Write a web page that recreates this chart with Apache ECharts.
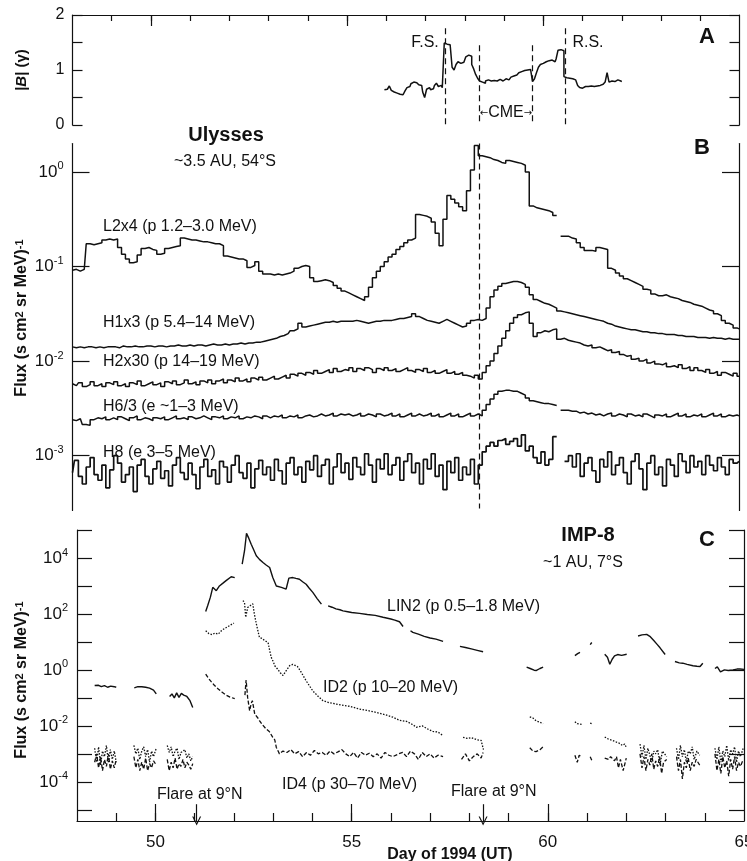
<!DOCTYPE html>
<html><head><meta charset="utf-8">
<script src="https://cdn.jsdelivr.net/npm/echarts@6/dist/echarts.min.js"></script>
<style>html,body{margin:0;padding:0;background:#fff}#c{width:747px;height:861px}</style>
</head><body><div id="c"></div><script>
const FONT = "'Liberation Sans', Arial, Helvetica, sans-serif";
const INK = '#111';

// ---------- Panel A: |B| (gamma), regular sampling ----------
const magDay0 = 55.95, magStep = 0.05;
const magField = [0.64,0.65,0.63,0.71,0.63,0.6,0.58,0.6,0.56,0.55,0.58,0.62,0.68,0.7,0.75,0.78,0.77,0.76,0.73,0.72,
0.6,0.5,0.65,0.68,0.64,0.66,0.72,0.76,0.7,0.72,0.68,1.49,1.47,1.46,1.45,1.05,1.0,1.1,1.15,1.12,
1.14,1.13,1.24,1.27,1.25,1.1,1.02,0.92,0.85,0.8,0.78,0.76,0.8,0.82,0.8,0.79,0.81,0.8,0.82,0.83,
0.8,0.83,0.84,0.82,0.85,0.87,0.89,0.91,0.92,0.95,0.97,0.99,1.0,1.0,1.01,1.02,0.79,0.84,0.95,1.05,
1.1,1.12,1.15,1.17,1.17,1.18,1.17,1.15,1.2,1.36,1.37,1.35,0.88,0.86,0.85,0.83,0.84,0.82,0.8,0.72,
0.68,0.67,0.7,0.73,0.7,0.71,0.69,0.7,0.71,0.7,0.72,0.74,0.72,0.78,0.95,0.78,0.8,0.79,0.81,0.82,
0.8,0.79];

// ---------- Panel B: Ulysses, log10 flux, 0.1-day sampling from day 48.0 ----------
const ulyDay0 = 48.0, ulyStep = 0.1;
const L2x4 = [
-1.04,-1.03,-1.05,-1.03,-0.76,-0.77,-0.76,-0.75,-0.72,-0.71,
-0.72,-0.71,-0.8,-0.87,-0.92,-0.96,-0.95,-0.88,-0.81,-0.8,
-0.82,-0.83,-0.87,-0.86,-0.81,-0.8,-0.79,-0.78,-0.7,-0.71,
-0.72,-0.72,-0.73,-0.74,-0.74,-0.75,-0.76,-0.76,-0.78,-0.89,
-0.9,-0.91,-0.92,-0.92,-0.94,-1.01,-0.99,-0.95,-1.05,-1.08,
-1.08,-1.09,-1.08,-1.09,-1.08,-1.07,-1.05,-1.02,-1.0,-0.99,
-1.0,-1.12,-1.16,-1.15,-1.14,-1.15,-1.17,-1.2,-1.23,-1.26,
-1.28,-1.3,-1.32,-1.34,-1.36,-1.32,-1.22,-1.12,-1.05,-1.0,
-0.95,-0.9,-0.87,-0.82,-0.79,-0.75,-0.72,-0.7,-0.45,-0.46,
-0.47,-0.49,-0.53,-0.65,-0.78,-0.5,-0.25,-0.29,-0.33,-0.37,
-0.41,-0.2,0.02,0.28,0.17,0.16,0.15,0.13,0.12,0.1,
0.09,0.12,0.11,0.1,0.09,0.07,0.0,-0.36,-0.38,-0.39,
-0.4,-0.41,-0.43,-0.46,null,-0.68,-0.68,-0.7,-0.71,-0.75,
-0.8,-0.83,-0.83,-0.84,-0.8,-0.81,-0.82,-1.02,-1.04,-1.07,
-1.1,-1.13,-1.15,-1.17,-1.19,-1.21,-1.24,-1.25,-1.29,-1.31,
-1.31,-1.3,-1.32,-1.33,-1.34,-1.36,-1.37,-1.38,-1.4,-1.41,
-1.42,-1.44,-1.46,-1.47,-1.5,-1.52,-1.57,-1.6,-1.62,-1.65,
-1.66];
const H1x3 = [
-1.85,-1.86,-1.85,-1.86,-1.85,-1.85,-1.86,-1.85,-1.86,-1.85,
-1.85,-1.85,-1.86,-1.84,-1.85,-1.85,-1.84,-1.85,-1.85,-1.84,
-1.84,-1.85,-1.84,-1.84,-1.85,-1.84,-1.84,-1.83,-1.84,-1.84,
-1.83,-1.84,-1.83,-1.83,-1.84,-1.83,-1.82,-1.83,-1.83,-1.82,
-1.83,-1.82,-1.82,-1.81,-1.82,-1.81,-1.81,-1.8,-1.8,-1.79,
-1.78,-1.77,-1.76,-1.74,-1.73,-1.71,-1.68,-1.66,-1.6,-1.64,
-1.63,-1.62,-1.61,-1.6,-1.59,-1.59,-1.58,-1.59,-1.58,-1.58,
-1.58,-1.58,-1.57,-1.58,-1.59,-1.6,-1.59,-1.58,-1.58,-1.57,
-1.57,-1.57,-1.56,-1.55,-1.55,-1.54,-1.53,-1.5,-1.53,-1.55,
-1.57,-1.58,-1.59,-1.6,-1.58,-1.56,-1.58,-1.6,-1.62,-1.64,
-1.63,-1.6,-1.57,-1.56,-1.57,-1.55,-1.44,-1.32,-1.25,-1.21,
-1.18,-1.17,-1.16,-1.16,-1.17,-1.19,-1.22,-1.3,-1.35,-1.37,
-1.39,-1.4,-1.42,-1.44,-1.47,-1.48,-1.49,-1.5,-1.51,-1.52,
-1.53,-1.54,-1.55,-1.56,-1.57,-1.58,-1.6,-1.61,-1.63,-1.64,
-1.65,-1.66,-1.67,-1.67,-1.68,-1.69,-1.69,-1.7,-1.7,-1.71,
-1.71,-1.72,-1.72,-1.72,-1.73,-1.73,-1.74,-1.74,-1.74,-1.75,
-1.75,-1.75,-1.76,-1.75,-1.76,-1.76,-1.77,-1.76,-1.77,-1.77,
-1.77];
const H2x30 = [
-2.24,-2.26,-2.23,-2.27,-2.25,-2.22,-2.26,-2.24,-2.27,-2.23,
-2.25,-2.22,-2.26,-2.24,-2.27,-2.23,-2.25,-2.21,-2.26,-2.24,
-2.22,-2.25,-2.23,-2.27,-2.22,-2.24,-2.21,-2.25,-2.23,-2.2,
-2.24,-2.22,-2.25,-2.21,-2.23,-2.2,-2.24,-2.21,-2.19,-2.23,
-2.2,-2.22,-2.18,-2.21,-2.19,-2.22,-2.18,-2.2,-2.17,-2.2,
-2.18,-2.16,-2.19,-2.17,-2.15,-2.18,-2.14,-2.16,-2.13,-2.15,
-2.12,-2.14,-2.1,-2.13,-2.11,-2.09,-2.12,-2.08,-2.11,-2.09,
-2.1,-2.07,-2.11,-2.08,-2.1,-2.07,-2.09,-2.12,-2.08,-2.1,
-2.07,-2.1,-2.08,-2.11,-2.09,-2.07,-2.1,-2.12,-2.09,-2.11,
-2.08,-2.12,-2.1,-2.13,-2.11,-2.09,-2.13,-2.11,-2.14,-2.12,
-2.15,-2.16,-2.18,-2.15,-2.19,-2.12,-2.05,-2.0,-1.92,-1.84,
-1.76,-1.68,-1.6,-1.54,-1.51,-1.49,-1.48,-1.6,-1.74,-1.7,
-1.68,-1.69,-1.67,-1.66,-1.77,-1.76,-1.78,-1.79,-1.8,-1.81,
-1.83,-1.84,-1.83,-1.86,-1.85,-1.87,-1.89,-1.88,-1.91,-1.9,
-1.93,-1.95,-1.94,-1.98,-1.97,-2.0,-1.98,-2.02,-2.0,-2.03,
-2.04,-2.02,-2.06,-2.05,-2.07,-2.04,-2.08,-2.06,-2.1,-2.07,
-2.1,-2.12,-2.09,-2.13,-2.11,-2.15,-2.12,-2.14,-2.16,-2.13,
-2.16];
const H6div3 = [
-2.62,-2.63,-2.61,-2.67,-2.68,-2.62,-2.6,-2.61,-2.59,-2.62,
-2.6,-2.62,-2.59,-2.61,-2.63,-2.6,-2.58,-2.62,-2.6,-2.61,
-2.63,-2.6,-2.61,-2.59,-2.62,-2.6,-2.58,-2.61,-2.6,-2.62,
-2.59,-2.61,-2.6,-2.58,-2.6,-2.62,-2.59,-2.6,-2.58,-2.61,
-2.59,-2.6,-2.58,-2.61,-2.59,-2.6,-2.58,-2.59,-2.61,-2.58,
-2.6,-2.58,-2.59,-2.57,-2.6,-2.58,-2.59,-2.57,-2.6,-2.58,
-2.57,-2.59,-2.58,-2.56,-2.58,-2.57,-2.55,-2.58,-2.56,-2.57,
-2.56,-2.58,-2.57,-2.55,-2.58,-2.56,-2.57,-2.59,-2.56,-2.58,
-2.57,-2.55,-2.58,-2.56,-2.59,-2.57,-2.55,-2.58,-2.56,-2.58,
-2.57,-2.55,-2.58,-2.56,-2.59,-2.57,-2.55,-2.58,-2.56,-2.59,
-2.57,-2.55,-2.58,-2.56,-2.58,-2.52,-2.46,-2.4,-2.35,-2.32,
-2.31,-2.31,-2.32,-2.32,-2.34,-2.36,-2.39,-2.42,-2.43,-2.44,
-2.45,-2.45,-2.46,-2.47,null,-2.52,-2.52,-2.53,-2.53,-2.55,
-2.54,-2.56,-2.55,-2.57,-2.56,-2.58,-2.56,-2.55,-2.58,-2.56,
-2.57,-2.59,-2.56,-2.58,-2.57,-2.59,-2.56,-2.58,-2.6,-2.57,
-2.58,-2.56,-2.59,-2.57,-2.55,-2.58,-2.56,-2.59,-2.57,-2.58,
-2.56,-2.59,-2.57,-2.55,-2.58,-2.56,-2.59,-2.57,-2.58,-2.57,
-2.58];
const H8 = [
-3.18,-3.05,-3.22,-3.3,-3.12,-3.02,-3.2,-3.26,-3.1,-3.34,
-3.15,-3.0,-3.08,-3.28,-3.2,-3.12,-3.38,-3.1,-3.04,-3.22,
-3.3,-3.14,-3.06,-3.24,-3.16,-3.32,-3.1,-3.02,-3.18,-3.25,
-3.08,-3.2,-3.35,-3.12,-3.04,-3.22,-3.15,-3.3,-3.06,-3.12,
-3.28,-3.1,-3.0,-3.18,-3.24,-3.08,-3.34,-3.14,-3.05,-3.2,
-3.12,-3.26,-3.04,-3.16,-3.3,-3.08,-3.02,-3.2,-3.12,-3.28,
-3.06,-3.15,-3.0,-3.22,-3.1,-3.04,-3.3,-3.12,-2.98,-3.18,
-3.08,-3.25,-3.02,-3.12,-3.2,-2.98,-3.1,-3.28,-3.04,-3.14,
-2.98,-3.2,-3.1,-3.02,-3.26,-3.06,-2.98,-3.18,-3.08,-3.3,
-3.04,-3.14,-2.98,-3.22,-3.1,-3.36,-3.06,-3.18,-3.02,-3.26,
-3.12,-3.2,-3.04,-3.3,-3.1,-2.96,-2.9,-2.86,-2.9,-2.84,
-2.82,-2.88,-2.85,-2.82,-2.9,-2.78,-2.95,-2.9,-3.02,-3.08,
-2.96,-3.1,-3.04,-2.8,null,null,-3.06,-3.0,-3.12,-2.98,
-3.22,-3.08,-3.02,-3.16,-3.28,-3.04,-3.12,-2.96,-3.2,-3.1,
-3.02,-3.18,-3.3,-3.06,-2.98,-3.14,-3.36,-3.08,-3.0,-3.2,
-3.12,-3.32,-3.04,-3.1,-3.22,-2.98,-3.06,-3.18,-3.0,-3.12,
-3.06,-3.2,-3.0,-3.1,-3.16,-3.02,-3.12,-3.2,-3.04,-3.08,
-3.06];

// ---------- Panel C: IMP-8, [day, log10 flux]; null marks a data gap ----------
const LIN2 = [
[48.45,-0.56],[48.55,-0.55],[48.62,-0.6],[48.7,-0.56],[48.78,-0.62],[48.86,-0.58],[48.95,-0.6],[49.0,-0.62],[49.2,null],
[49.46,-0.64],[49.55,-0.6],[49.65,-0.6],[49.75,-0.62],[49.85,-0.65],[49.95,-0.72],[50.02,-0.86],[50.15,null],
[50.36,-0.95],[50.42,-0.86],[50.48,-1.0],[50.54,-0.82],[50.6,-0.98],[50.66,-0.84],[50.72,-0.9],[50.8,-0.95],[50.88,-1.1],[50.95,-1.34],[51.1,null],
[51.28,2.09],[51.33,2.29],[51.4,2.6],[51.46,2.95],[51.55,2.83],[51.63,3.0],[51.72,3.1],[51.8,3.19],[51.93,3.33],[52.02,3.3],[52.1,null],
[52.21,3.78],[52.27,4.26],[52.32,4.88],[52.38,4.7],[52.44,4.49],[52.5,4.3],[52.57,4.08],[52.65,3.95],[52.74,3.84],[52.82,3.75],[52.91,3.66],[52.99,3.3],[53.08,3.0],[53.21,2.95],[53.33,2.89],[53.4,3.28],[53.5,3.3],[53.58,3.27],[53.67,3.24],[53.75,3.15],[53.84,3.06],[53.92,2.92],[54.01,2.77],[54.12,2.55],[54.23,2.35],[54.32,null],
[54.4,2.29],[54.5,2.24],[54.6,2.18],[54.7,2.15],[54.78,2.11],[54.9,2.08],[55.0,2.05],[55.2,2.02],[55.4,1.98],[55.6,1.95],[55.8,1.88],[56.0,1.82],[56.1,1.78],[56.22,1.72],[56.31,1.55],[56.42,null],
[56.5,1.4],[56.56,1.34],[56.7,1.28],[56.85,1.2],[57.0,1.14],[57.15,1.1],[57.33,1.02],[57.5,null],
[57.76,0.84],[57.9,0.8],[58.05,0.75],[58.2,0.7],[58.35,0.65],[58.6,null],
[59.46,0.1],[59.55,0.05],[59.65,-0.01],[59.71,-0.02],[59.8,0.05],[59.88,0.1],[60.2,null],
[60.69,0.51],[60.76,0.58],[60.82,0.63],[60.95,null],
[61.08,0.9],[61.12,0.98],[61.3,null],
[61.45,0.56],[61.52,0.45],[61.58,0.2],[61.64,0.38],[61.7,0.5],[61.78,0.55],[61.88,0.52],[62.01,0.56],[62.15,null],
[62.3,1.21],[62.4,1.25],[62.52,1.27],[62.6,1.2],[62.7,1.05],[62.78,0.92],[62.86,0.79],[62.99,0.55],[63.1,null],
[63.24,0.3],[63.35,0.25],[63.44,0.24],[63.55,0.2],[63.7,0.15],[63.8,0.13],[63.88,0.12],[63.95,0.24],[64.1,null],
[64.26,0.05],[64.32,0.11],[64.4,-0.07],[64.5,0.0],[64.6,-0.02],[64.72,0.0],[64.82,0.03],[64.9,0.03],[65.0,0.02]
];
const ID2 = [
[48.45,-2.8],[48.5,-3.3],[48.55,-2.75],[48.6,-3.4],[48.65,-2.9],[48.7,-3.1],[48.75,-2.7],[48.8,-3.3],[48.85,-2.85],[48.9,-3.2],[48.95,-2.9],[49.0,-3.3],[49.2,null],
[49.45,-2.7],[49.5,-3.0],[49.55,-2.8],[49.6,-3.2],[49.65,-2.9],[49.7,-2.75],[49.75,-3.1],[49.8,-2.85],[49.85,-3.3],[49.9,-2.9],[49.95,-3.1],[50.02,-2.8],[50.15,null],
[50.3,-2.7],[50.35,-2.95],[50.4,-2.75],[50.45,-3.1],[50.5,-2.9],[50.55,-2.8],[50.6,-3.2],[50.65,-2.95],[50.7,-3.0],[50.75,-2.85],[50.8,-3.15],[50.85,-3.0],[50.9,-3.25],[50.95,-3.1],[51.1,null],
[51.28,1.4],[51.36,1.3],[51.44,1.26],[51.52,1.32],[51.6,1.28],[51.68,1.4],[51.76,1.48],[51.85,1.55],[51.93,1.62],[52.0,1.67],[52.1,null],
[52.23,2.48],[52.27,2.4],[52.3,1.88],[52.35,2.23],[52.42,2.3],[52.48,2.36],[52.52,2.0],[52.57,1.65],[52.65,1.16],[52.72,1.12],[52.78,1.05],[52.87,0.98],[52.91,0.7],[52.95,0.45],[53.0,0.3],[53.04,0.15],[53.1,0.05],[53.18,-0.1],[53.25,-0.2],[53.32,-0.05],[53.42,0.15],[53.5,0.2],[53.55,0.23],[53.62,0.12],[53.7,-0.05],[53.84,-0.39],[54.01,-0.75],[54.15,-0.95],[54.27,-1.1],[54.45,-1.18],[54.61,-1.22],[54.8,-1.27],[54.95,-1.3],[55.1,-1.36],[55.2,-1.4],[55.4,-1.45],[55.63,-1.52],[55.85,-1.6],[56.05,-1.69],[56.22,-1.8],[56.4,-1.84],[56.55,-1.95],[56.65,-2.05],[56.8,-2.0],[56.95,-2.12],[57.07,-2.2],[57.2,-2.22],[57.33,-2.35],[57.5,null],
[57.84,-2.41],[57.95,-2.45],[58.05,-2.42],[58.2,-2.5],[58.3,-2.52],[58.35,-2.55],[58.36,-2.85],[58.6,null],
[59.54,-1.68],[59.62,-1.72],[59.7,-1.82],[59.78,-1.86],[59.88,-1.92],[60.2,null],
[60.69,-1.85],[60.75,-1.92],[60.8,-1.88],[60.86,-1.95],[60.95,null],
[61.08,-1.9],[61.14,-1.93],[61.3,null],
[61.45,-2.4],[61.5,-2.38],[61.55,-2.48],[61.6,-2.45],[61.65,-2.52],[61.7,-2.5],[61.75,-2.58],[61.82,-2.62],[61.9,-2.7],[61.96,-2.65],[62.01,-2.8],[62.15,null],
[62.35,-2.65],[62.4,-3.1],[62.45,-2.7],[62.5,-3.2],[62.55,-2.8],[62.6,-2.75],[62.65,-3.3],[62.7,-2.9],[62.75,-3.0],[62.8,-2.85],[62.86,-3.4],[62.92,-2.9],[63.03,-3.1],[63.15,null],
[63.28,-2.8],[63.33,-3.2],[63.38,-2.7],[63.43,-3.1],[63.48,-2.85],[63.53,-3.3],[63.58,-2.9],[63.63,-3.0],[63.68,-2.75],[63.73,-3.2],[63.8,-2.9],[63.87,-3.05],[64.05,null],
[64.26,-2.8],[64.31,-3.2],[64.36,-2.75],[64.41,-3.3],[64.46,-2.9],[64.51,-3.1],[64.56,-2.7],[64.61,-3.25],[64.66,-2.85],[64.71,-3.0],[64.76,-2.75],[64.81,-3.3],[64.86,-2.9],[64.91,-3.1],[64.98,-2.8]
];
const ID4 = [
[48.45,-3.3],[48.5,-3.0],[48.55,-3.5],[48.6,-3.1],[48.65,-3.6],[48.7,-3.2],[48.75,-3.45],[48.8,-3.0],[48.85,-3.55],[48.9,-3.25],[48.95,-3.5],[49.0,-3.2],[49.2,null],
[49.45,-3.1],[49.5,-3.5],[49.55,-3.2],[49.6,-3.6],[49.65,-3.3],[49.7,-3.55],[49.75,-3.15],[49.8,-3.6],[49.85,-3.35],[49.9,-3.5],[49.95,-3.25],[50.02,-3.4],[50.15,null],
[50.3,-3.2],[50.35,-3.6],[50.4,-3.3],[50.45,-3.5],[50.5,-3.15],[50.55,-3.55],[50.6,-3.35],[50.65,-3.45],[50.7,-3.2],[50.75,-3.5],[50.8,-3.3],[50.85,-3.4],[50.9,-3.55],[50.95,-3.35],[51.1,null],
[51.28,-0.15],[51.35,-0.3],[51.42,-0.42],[51.5,-0.55],[51.6,-0.68],[51.7,-0.8],[51.8,-0.9],[51.9,-0.97],[52.02,-1.03],[52.15,null],
[52.28,-0.9],[52.31,-0.36],[52.35,-1.0],[52.4,-1.46],[52.44,-1.2],[52.47,-1.1],[52.53,-1.58],[52.6,-1.7],[52.65,-1.81],[52.72,-1.95],[52.82,-2.11],[52.9,-2.2],[52.99,-2.41],[53.04,-2.5],[53.08,-2.77],[53.16,-3.0],
[53.25,-2.9],[53.35,-2.95],[53.45,-2.85],[53.55,-3.0],[53.65,-2.92],[53.75,-3.1],[53.85,-2.95],[53.95,-3.05],[54.05,-2.88],[54.15,-3.0],[54.25,-2.95],[54.35,-3.05],[54.45,-2.9],[54.55,-3.0],[54.65,-2.93],[54.75,-2.85],[54.85,-3.0],[54.95,-3.1],[55.05,-2.95],[55.15,-3.15],[55.25,-2.95],[55.35,-3.05],[55.45,-2.98],[55.55,-3.1],[55.65,-3.0],[55.75,-3.15],[55.85,-2.95],[55.95,-3.05],[56.05,-3.1],[56.2,-3.0],[56.3,-2.95],[56.4,-3.1],[56.5,-2.9],[56.6,-3.0],[56.7,-3.2],[56.8,-2.95],[56.9,-3.1],[57.0,-3.0],[57.1,-3.15],[57.2,-3.05],[57.33,-3.1],[57.5,null],
[57.8,-3.2],[57.9,-3.0],[58.0,-3.25],[58.1,-3.1],[58.2,-3.0],[58.3,-3.15],[58.35,-2.95],[58.6,null],
[59.54,-2.78],[59.62,-2.9],[59.7,-2.92],[59.8,-2.85],[59.88,-2.75],[60.2,null],
[60.69,-3.05],[60.75,-3.3],[60.8,-3.05],[60.86,-3.1],[60.95,null],
[61.08,-3.1],[61.14,-3.3],[61.3,null],
[61.45,-3.15],[61.55,-3.2],[61.6,-3.1],[61.7,-3.25],[61.75,-3.1],[61.8,-3.5],[61.85,-3.2],[61.92,-3.6],[62.0,-3.15],[62.15,null],
[62.35,-3.0],[62.4,-3.5],[62.45,-3.1],[62.5,-3.6],[62.55,-3.2],[62.6,-3.4],[62.65,-3.0],[62.7,-3.55],[62.75,-3.25],[62.8,-3.45],[62.85,-3.1],[62.9,-3.7],[62.95,-3.3],[63.03,-3.2],[63.15,null],
[63.28,-3.1],[63.33,-3.6],[63.38,-3.2],[63.43,-3.9],[63.48,-3.3],[63.53,-3.5],[63.58,-3.15],[63.63,-3.6],[63.68,-3.3],[63.73,-3.45],[63.78,-3.2],[63.87,-3.4],[64.05,null],
[64.26,-3.0],[64.31,-3.6],[64.36,-3.2],[64.41,-3.7],[64.46,-3.1],[64.51,-3.5],[64.56,-3.25],[64.61,-3.8],[64.66,-3.2],[64.71,-3.55],[64.76,-3.1],[64.81,-3.6],[64.86,-3.3],[64.91,-3.45],[64.98,-3.2]
];

// ---------- event markers (days) ----------
const fsDay = 57.5, cmeStartDay = 58.37, cmeEndDay = 59.73, rsDay = 60.56;
const flareDays = [51.05, 58.35];

// ---------- tick values ----------
const dayMinorTicks = [49,50,51,52,53,54,55,56,57,58,59,60,61,62,63,64];
const dayMajorTicks = [50,55,60];
const dayLabels = [50,55,60,65];
const magTicks = [0,0.5,1,1.5,2];
const magLabels = [0,1,2];
const ulyDecades = [-3,-2,-1,0];
const impDecades = [-5,-4,-3,-2,-1,0,1,2,3,4,5];
const impLabels = [-4,-2,0,2,4];

// ---------- build ----------
function regular(vals, d0, step){ return vals.map((v,i)=>[Math.round((d0+i*step)*1000)/1000, v===null?'-':v]); }
function pairs(arr){ return arr.map(p=>[p[0], p[1]===null?'-':p[1]]); }

const lineS = {color: INK, width: 1.2};
const decadeRich = {
  b:{fontSize:17, fontFamily:FONT, color:INK, lineHeight:22},
  s:{fontSize:11, fontFamily:FONT, color:INK, lineHeight:12, verticalAlign:'top'}
};
const decFmt = v => '{b|10}{s|' + Math.round(v) + '}';

function xAx(grid, pos, opts){
  return Object.assign({gridIndex:grid, type:'value', min:48, max:65, position:pos,
    axisLine:{show:false, onZero:false, lineStyle:lineS}, splitLine:{show:false}, axisLabel:{show:false},
    axisTick:{show:false}}, opts);
}
function yAx(grid, pos, min, max, ticks, len, labelOpts){
  return {gridIndex:grid, type:'value', min, max, position:pos,
    axisLine:{show:true, onZero:false, lineStyle:lineS}, splitLine:{show:false},
    axisTick:{show:true, inside:true, length:len, customValues:ticks, lineStyle:lineS},
    axisLabel: labelOpts || {show:false}};
}

const markLineBase = {silent:true, symbol:'none', label:{show:false}, animation:false};
const dashS = {color:INK, width:1.2, type:[6,4]};

const chart = echarts.init(document.getElementById('c'), null, {renderer:'canvas'});
const option = {
  animation:false,
  backgroundColor:'#fff',
  textStyle:{fontFamily:FONT, color:INK},
  grid:[
    {left:72.5, top:15, width:667, height:110, outerBoundsMode:'none', containLabel:false},
    {left:72.5, top:143.5, width:666.5, height:367, outerBoundsMode:'none', containLabel:false},
    {left:77, top:530, width:667, height:291, outerBoundsMode:'none', containLabel:false}
  ],
  xAxis:[
    xAx(0,'top',{axisLine:{show:true,onZero:false,lineStyle:lineS}, axisTick:{show:true,inside:true,length:6,customValues:dayMinorTicks,lineStyle:lineS}}),
    xAx(0,'top',{axisTick:{show:true,inside:true,length:11,customValues:dayMajorTicks,lineStyle:lineS}}),
    xAx(1,'bottom',{show:false}),
    xAx(2,'bottom',{axisLine:{show:true,onZero:false,lineStyle:lineS},
      axisTick:{show:true,inside:true,length:8,customValues:dayMinorTicks,lineStyle:lineS},
      axisLabel:{show:true, customValues:dayLabels, margin:13, fontSize:17, fontFamily:FONT, color:INK}}),
    xAx(2,'bottom',{axisTick:{show:true,inside:true,length:17,customValues:dayMajorTicks,lineStyle:lineS}})
  ],
  yAxis:[
    yAx(0,'left',0,2,magTicks,10,{show:true, customValues:magLabels, margin:8, fontSize:16, fontFamily:FONT, color:INK}),
    yAx(0,'right',0,2,magTicks,10),
    yAx(1,'left',-3.58,0.3,ulyDecades,17,{show:true, customValues:ulyDecades, margin:9, formatter:decFmt, rich:decadeRich}),
    yAx(1,'right',-3.58,0.3,ulyDecades,17),
    yAx(2,'left',-5.4,5,impDecades,15,{show:true, customValues:impLabels, margin:9, formatter:decFmt, rich:decadeRich}),
    yAx(2,'right',-5.4,5,impDecades,15)
  ],
  series:[
    {name:'|B|', type:'line', xAxisIndex:0, yAxisIndex:0, data:regular(magField, magDay0, magStep),
     step:'middle', showSymbol:false, lineStyle:{color:INK,width:1.5},
     markLine:Object.assign({}, markLineBase, {lineStyle:dashS, data:[
       [{coord:[fsDay,1.76]},{coord:[fsDay,0]}],
       [{coord:[cmeStartDay,1.45]},{coord:[cmeStartDay,0]}],
       [{coord:[cmeEndDay,1.45]},{coord:[cmeEndDay,0]}],
       [{coord:[rsDay,1.76]},{coord:[rsDay,0]}]
     ]})},
    {name:'L2x4', type:'line', xAxisIndex:2, yAxisIndex:2, data:regular(L2x4, ulyDay0, ulyStep),
     step:'middle', showSymbol:false, lineStyle:{color:INK,width:1.5},
     markLine:Object.assign({}, markLineBase, {lineStyle:dashS, data:[
       [{coord:[cmeStartDay,0.3]},{coord:[cmeStartDay,-3.56]}]
     ]})},
    {name:'H1x3', type:'line', xAxisIndex:2, yAxisIndex:2, data:regular(H1x3, ulyDay0, ulyStep),
     step:'middle', showSymbol:false, lineStyle:{color:INK,width:1.5}},
    {name:'H2x30', type:'line', xAxisIndex:2, yAxisIndex:2, data:regular(H2x30, ulyDay0, ulyStep),
     step:'middle', showSymbol:false, lineStyle:{color:INK,width:1.5}},
    {name:'H6/3', type:'line', xAxisIndex:2, yAxisIndex:2, data:regular(H6div3, ulyDay0, ulyStep),
     step:'middle', showSymbol:false, lineStyle:{color:INK,width:1.5}},
    {name:'H8', type:'line', xAxisIndex:2, yAxisIndex:2, data:regular(H8, ulyDay0, ulyStep),
     step:'middle', showSymbol:false, lineStyle:{color:INK,width:1.7}},
    {name:'LIN2', type:'line', xAxisIndex:3, yAxisIndex:4, data:pairs(LIN2),
     showSymbol:false, lineStyle:{color:INK,width:1.4},
     markLine:Object.assign({}, markLineBase, {
       symbol:['none','path://M0,10 L5,0 L10,10 L8.6,10 L5,2.8 L1.4,10 Z'], symbolSize:[9,9],
       lineStyle:{color:INK,width:1.2,type:'solid'},
       data: flareDays.map(d=>[{coord:[d,-4.8]},{coord:[d,-5.4]}])})},
    {name:'ID2', type:'line', xAxisIndex:3, yAxisIndex:4, data:pairs(ID2),
     showSymbol:false, lineStyle:{color:INK,width:1.3,type:[1.5,1.5]}},
    {name:'ID4', type:'line', xAxisIndex:3, yAxisIndex:4, data:pairs(ID4),
     showSymbol:false, lineStyle:{color:INK,width:1.3,type:[4,2]}}
  ]
};

function txt(x, y, text, size, o){
  o = o || {};
  const st = {text, fontSize:size, fontFamily:FONT, fontWeight:o.bold?'bold':'normal', fill:INK,
    textAlign:o.align||'left', textVerticalAlign:'middle', align:o.align||'left', verticalAlign:'middle'};
  if (o.rich) st.rich = o.rich;
  const el = {type:'text', x, y, style:st, silent:true};
  if (o.rot) el.rotation = o.rot;
  return el;
}
const supRich = {s:{fontSize:11, fontWeight:'bold', fontFamily:FONT, fill:INK, color:INK, verticalAlign:'top', lineHeight:11}};
const arrowRich = {a:{fontSize:10, fontFamily:"'DejaVu Sans', sans-serif", fill:INK, color:INK}};
const italRich = {i:{fontSize:15, fontWeight:'bold', fontStyle:'italic', fontFamily:FONT, fill:INK, color:INK}};

option.graphic = {elements:[
  txt(425,43,'F.S.',16,{align:'center'}),
  txt(588,43,'R.S.',16,{align:'center'}),
  txt(506,113,'{a|←}CME{a|→}',16,{align:'center', rich:arrowRich}),
  txt(707,37,'A',22,{align:'center',bold:true}),
  txt(702,148,'B',22,{align:'center',bold:true}),
  txt(707,540,'C',22,{align:'center',bold:true}),
  txt(226,135,'Ulysses',20,{align:'center',bold:true}),
  txt(225,162,'~3.5 AU, 54°S',16,{align:'center'}),
  txt(103,227,'L2x4 (p 1.2–3.0 MeV)',16),
  txt(103,323,'H1x3 (p 5.4–14 MeV)',16),
  txt(103,362,'H2x30 (p 14–19 MeV)',16),
  txt(103,407,'H6/3 (e ~1–3 MeV)',16),
  txt(103,453,'H8 (e 3–5 MeV)',16),
  txt(588,535,'IMP-8',20,{align:'center',bold:true}),
  txt(583,563,'~1 AU, 7°S',16,{align:'center'}),
  txt(387,607,'LIN2 (p 0.5–1.8 MeV)',16),
  txt(323,688,'ID2 (p 10–20 MeV)',16),
  txt(282,785,'ID4 (p 30–70 MeV)',16),
  txt(157,795,'Flare at 9°N',16),
  txt(451,792,'Flare at 9°N',16),
  txt(22,70,'|{i|B}| (γ)',15,{align:'center',bold:true,rot:Math.PI/2,rich:italRich}),
  txt(22,318,'Flux (s cm{s|2} sr MeV){s|-1}',16,{align:'center',bold:true,rot:Math.PI/2,rich:supRich}),
  txt(22,680,'Flux (s cm{s|2} sr MeV){s|-1}',16,{align:'center',bold:true,rot:Math.PI/2,rich:supRich}),
  txt(450,855,'Day of 1994 (UT)',16,{align:'center',bold:true})
]};

chart.setOption(option);
</script></body></html>
